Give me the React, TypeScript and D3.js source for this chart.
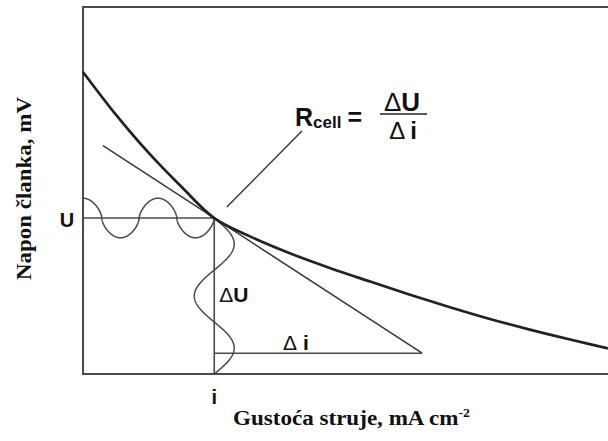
import React from "react";
import * as d3 from "d3";

// Polarisation curve: current density (arbitrary units) vs. cell voltage (arbitrary units)
const currentDensity = [0, 6.3, 12.6, 18.9, 25, 31.8, 39.4, 47, 54.7, 62.3, 69.9, 77.5, 85.1, 92.8, 100];
const cellVoltage = [82.3, 70.6, 60.1, 50.8, 42.5, 37.5, 32.9, 28.9, 25.2, 21.6, 18.2, 15.0, 12.1, 9.4, 7.0];

// Operating point and tangent (slope = -R_cell)
const operatingI = [25];
const operatingU = [42.5];
const tangentSlope = [-0.93];
const tangentSpan = [3.8, 64.6];

// Perturbation signals drawn along the U and i guides
const waveAmplitudeU = [5.4];
const waveHalfPeriodsU = [3.5];
const waveAmplitudeI = [3.8];
const waveCyclesI = [1.5];

const axisTitleX = "Gustoća struje, mA cm";
const axisTitleXSup = "-2";
const axisTitleY = "Napon članka, mV";

const W = 608;
const H = 441;

export default function App() {
  const x = d3.scaleLinear().domain([0, 100]).range([83, 608]);
  const y = d3.scaleLinear().domain([0, 100]).range([374, 7]);

  const iOp = operatingI[0];
  const uOp = operatingU[0];
  const slope = tangentSlope[0];
  const tanAt = (v: number) => uOp + slope * (v - iOp);
  const tanEndX = tangentSpan[1];
  const baseY = tanAt(tanEndX);

  const curvePts: [number, number][] = currentDensity.map((d, k) => [d, cellVoltage[k]]);
  const line = d3
    .line<[number, number]>()
    .x((d) => x(d[0]))
    .y((d) => y(d[1]))
    .curve(d3.curveCatmullRom.alpha(0.5));

  // horizontal wave: rounded humps, starting at a crest on the voltage axis
  const nH = waveHalfPeriodsU[0];
  const hWave: [number, number][] = d3.range(0, 1.00001, 0.001).map((t) => {
    const c = Math.cos(Math.PI * nH * t);
    const v = Math.sign(c) * Math.pow(Math.abs(c), 0.6);
    return [t * iOp, uOp + waveAmplitudeU[0] * v];
  });
  // vertical wave: from the operating voltage down to the current axis
  const vWave: [number, number][] = d3.range(0, 1.00001, 0.004).map((t) => [
    iOp + waveAmplitudeI[0] * Math.sin(2 * Math.PI * waveCyclesI[0] * t),
    uOp * (1 - t),
  ]);
  const rawLine = d3
    .line<[number, number]>()
    .x((d) => x(d[0]))
    .y((d) => y(d[1]));

  const frame = "#4a4a4a";
  const sans = "'Liberation Sans', Arial, sans-serif";
  const serif = "'Liberation Serif', 'Times New Roman', serif";

  const px = x(iOp);
  const py = y(uOp);

  return (
    <svg
      width={W}
      height={H}
      style={{ position: "absolute", left: 0, top: 0, background: "#fff" }}
    >
      {/* frame */}
      <path
        d={`M${x(100)},${y(100)}H${x(0)}V${y(0)}H${x(100)}`}
        fill="none"
        stroke={frame}
        strokeWidth={2}
      />

      {/* guides to the operating point */}
      <line x1={x(0)} x2={px} y1={py} y2={py} stroke={frame} strokeWidth={1.6} />
      <line x1={px} x2={px} y1={py} y2={y(0)} stroke={frame} strokeWidth={1.6} />

      {/* perturbation waves */}
      <path d={rawLine(hWave) ?? ""} fill="none" stroke={frame} strokeWidth={1.5} />
      <path d={rawLine(vWave) ?? ""} fill="none" stroke={frame} strokeWidth={1.5} />

      {/* tangent and its triangle */}
      <line
        x1={x(tangentSpan[0])}
        y1={y(tanAt(tangentSpan[0]))}
        x2={x(tanEndX)}
        y2={y(baseY)}
        stroke="#3a3a3a"
        strokeWidth={1.6}
      />
      <line x1={px} x2={x(tanEndX)} y1={y(baseY)} y2={y(baseY)} stroke={frame} strokeWidth={1.6} />

      {/* polarisation curve */}
      <path d={line(curvePts) ?? ""} fill="none" stroke="#222" strokeWidth={2.7} />

      {/* leader from the formula to the operating point */}
      <line x1={x(27.4)} y1={y(45.5)} x2={x(41.7)} y2={y(66.2)} stroke="#3a3a3a" strokeWidth={1.5} />

      {/* labels */}
      <text x={67} y={227} textAnchor="middle" fontFamily={sans} fontWeight="bold" fontSize={20} fill="#111">
        U
      </text>
      <text x={px} y={404} textAnchor="middle" fontFamily={sans} fontWeight="bold" fontSize={20} fill="#111">
        i
      </text>
      <text x={px + 5} y={302} fontFamily={sans} fontSize={21} fill="#111">
        <tspan>Δ</tspan>
        <tspan fontWeight="bold">U</tspan>
      </text>
      <text x={283} y={350} fontFamily={sans} fontSize={21} fill="#111">
        <tspan>Δ</tspan>
        <tspan dx={6} fontWeight="bold">i</tspan>
      </text>

      {/* R_cell = ΔU / Δi */}
      <text x={295} y={126} fontFamily={sans} fontWeight="bold" fontSize={25} fill="#111">
        <tspan>R</tspan>
        <tspan fontSize={17} dy={2}>cell</tspan>
        <tspan dy={-2} dx={6}>=</tspan>
      </text>
      <text x={402} y={111} textAnchor="middle" fontFamily={sans} fontSize={26} fill="#111">
        <tspan>Δ</tspan>
        <tspan fontWeight="bold">U</tspan>
      </text>
      <line x1={380} x2={427} y1={114} y2={114} stroke="#222" strokeWidth={1.6} />
      <text x={403} y={139} textAnchor="middle" fontFamily={sans} fontSize={24} fill="#111">
        <tspan>Δ</tspan>
        <tspan dx={5} fontWeight="bold">i</tspan>
      </text>

      {/* axis titles */}
      <text
        x={233}
        y={425}
        fontFamily={serif}
        fontWeight="bold"
        fontSize={20}
        fill="#111"
        textLength={237}
        lengthAdjust="spacingAndGlyphs"
      >
        {axisTitleX}
        <tspan fontSize={12} dy={-8}>{axisTitleXSup}</tspan>
      </text>
      <text
        transform="translate(31,188.5) rotate(-90)"
        textAnchor="middle"
        fontFamily={serif}
        fontWeight="bold"
        fontSize={20}
        fill="#111"
        textLength={183}
        lengthAdjust="spacingAndGlyphs"
      >
        {axisTitleY}
      </text>
    </svg>
  );
}
